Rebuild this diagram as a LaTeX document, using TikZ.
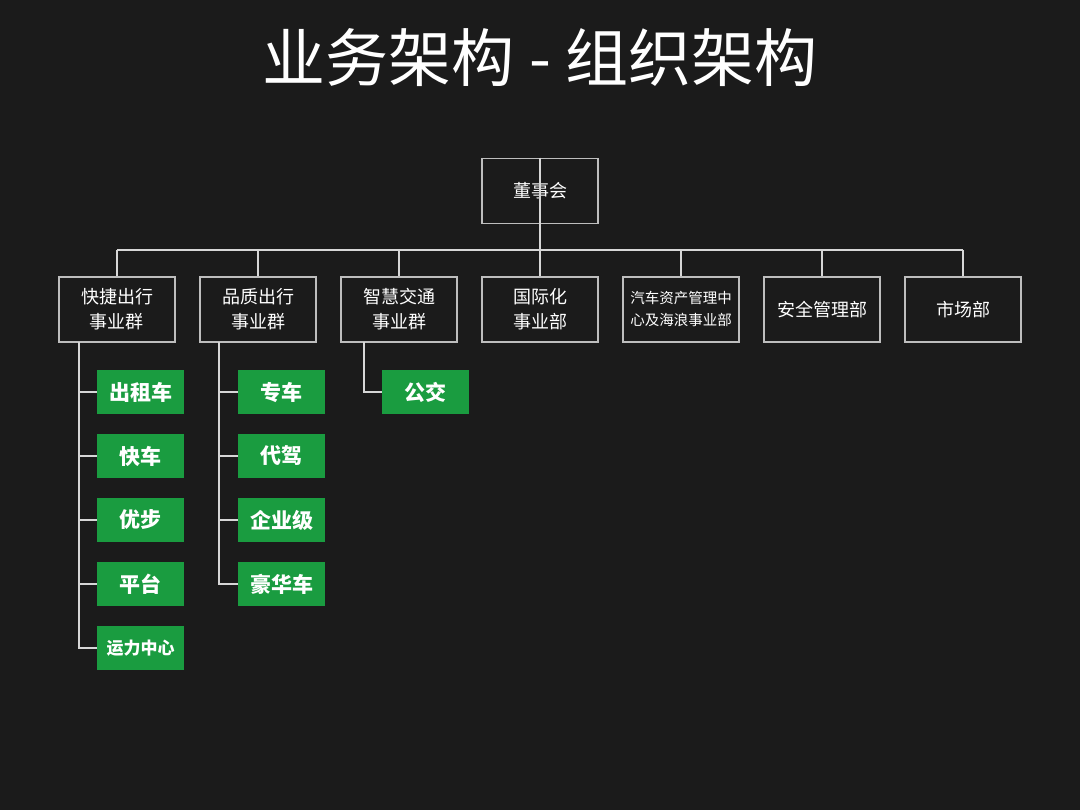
\documentclass[tikz,border=0pt]{standalone}
\usepackage{fontspec}
\newfontfamily\cjk{Noto Sans CJK SC}
\definecolor{bg}{RGB}{27,27,27}
\definecolor{ln}{RGB}{215,215,215}
\definecolor{bd}{RGB}{190,190,190}
\definecolor{gr}{RGB}{26,156,64}
\begin{document}
\begin{tikzpicture}[x=1pt,y=-1pt,
  conn/.style={draw=ln,line width=2pt},
  unit/.style={draw=bd,line width=1.5pt,minimum width=116pt,minimum height=65pt,inner sep=0pt,align=center,text=white,font=\cjk\fontsize{18}{25}\selectfont},
  small/.style={font=\cjk\fontsize{14.5}{22}\selectfont},
  leaf/.style={fill=gr,minimum width=87pt,minimum height=44pt,inner sep=0pt,text=white,font=\cjk\bfseries\fontsize{21}{24}\selectfont}]
\fill[bg] (0,0) rectangle (1080,810);
\useasboundingbox (0,0) rectangle (1080,810);
\node[text=white,font=\cjk\fontsize{63}{66}\selectfont] (title) at (540,58) {业务架构 - 组织架构};
\node[unit] (board) at (540,191) {董事会};
\node[unit] (g1) at (117,309.5) {快捷出行\\事业群};
\node[unit] (g2) at (258,309.5) {品质出行\\事业群};
\node[unit] (g3) at (399,309.5) {智慧交通\\事业群};
\node[unit] (g4) at (540,309.5) {国际化\\事业部};
\node[unit,small] (g5) at (681,309.5) {汽车资产管理中\\心及海浪事业部};
\node[unit] (g6) at (822,309.5) {安全管理部};
\node[unit] (g7) at (963,309.5) {市场部};
\coordinate (j) at (540,250);
\draw[conn] (board.north) -- (j);
\draw[conn] (g1.north |- j) -- (g7.north |- j);
\foreach \g in {g1,g2,g3,g4,g5,g6,g7} {\draw[conn] (\g.north |- j) -- (\g.north);}
% leaves
\node[leaf] (a1) at (140.5,392) {出租车};
\node[leaf] (a2) at (140.5,456) {快车};
\node[leaf] (a3) at (140.5,520) {优步};
\node[leaf] (a4) at (140.5,584) {平台};
\node[leaf,font=\cjk\bfseries\fontsize{17}{20}\selectfont] (a5) at (140.5,648) {运力中心};
\node[leaf] (b1) at (281.5,392) {专车};
\node[leaf] (b2) at (281.5,456) {代驾};
\node[leaf] (b3) at (281.5,520) {企业级};
\node[leaf] (b4) at (281.5,584) {豪华车};
\node[leaf] (c1) at (425.5,392) {公交};
\coordinate (s1) at (79,342);
\coordinate (s2) at (219,342);
\coordinate (s3) at (364,342);
\draw[conn] (s1) |- (a5.west);
\foreach \n in {a1,a2,a3,a4} {\draw[conn] (\n.west) -- (\n.west -| s1);}
\draw[conn] (s2) |- (b4.west);
\foreach \n in {b1,b2,b3} {\draw[conn] (\n.west) -- (\n.west -| s2);}
\draw[conn] (s3) |- (c1.west);
\end{tikzpicture}
\end{document}
